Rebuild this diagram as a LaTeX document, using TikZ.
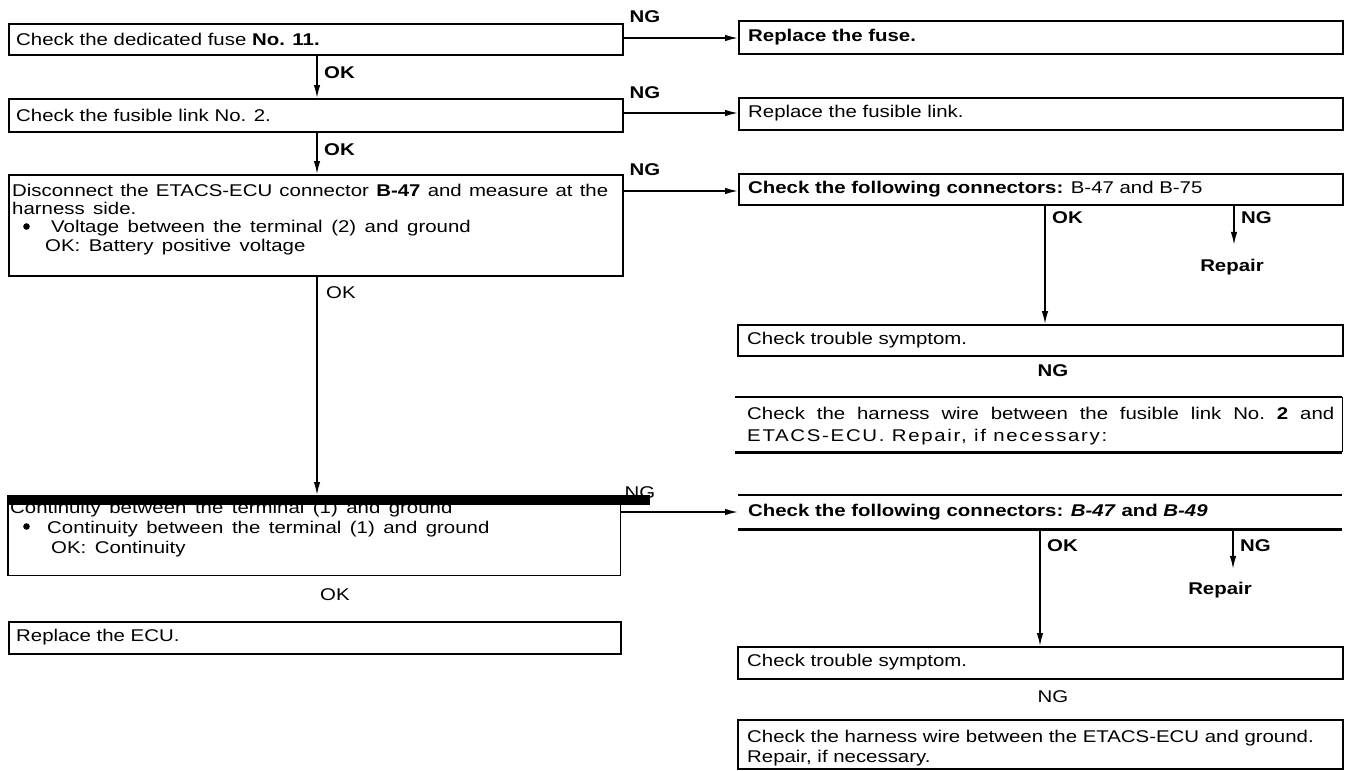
\documentclass[tikz,border=0pt]{standalone}
\usepackage{fontspec}
\setmainfont{Liberation Sans}[FakeStretch=1.2]
\newfontfamily\wide{Liberation Sans}[FakeStretch=1.2, WordSpace=1.5]
\usetikzlibrary{arrows.meta}
\newcommand\myfs{\fontsize{17pt}{18.3pt}\selectfont}
\begin{document}
\begin{tikzpicture}[x=1pt,y=-1pt,
  font=\myfs,
  box/.style={draw, line width=1.8pt, inner sep=0pt, anchor=north west},
  frame/.style={inner sep=0pt, anchor=north west},
  txt/.style={inner sep=0pt, anchor=west},
  mtxt/.style={inner sep=0pt, anchor=north west, align=left},
  lb/.style={inner sep=0pt, font=\myfs\bfseries},
  lr/.style={inner sep=0pt},
  arr/.style={line width=1.5pt, -{Latex[length=13pt,width=6.5pt]}},
  ln/.style={line width=1.8pt},
  thk/.style={line width=2.8pt},
  dot/.style={radius=3.3pt}]
\fill[white] (0,0) rectangle (1350,771);
\useasboundingbox (0,0) rectangle (1350,771);

% helper coordinates
\coordinate (xl) at (317,0);
\coordinate (y1) at (0,38);
\coordinate (y2) at (0,113);
\coordinate (y3) at (0,191);
\coordinate (y4) at (0,512);
\coordinate (xa) at (1045,0);
\coordinate (xb) at (1234,0);
\coordinate (xc) at (1040,0);
\coordinate (xd) at (1233,0);

% ---------------- left column ----------------
\node[box, minimum width=614pt, minimum height=31pt] (b1) at (8,23) {};
\node[txt] (t1) at (16,39) {Check the dedicated fuse \textbf{No. 11.}};

\node[box, minimum width=614pt, minimum height=33pt] (b2) at (8,98) {};
\node[txt] (t2) at (16,115) {Check the fusible link No. 2.};

\node[box, minimum width=614pt, minimum height=101pt] (b3) at (8,174) {};
\node[mtxt] (t3) at (12,183.6) {\makebox[596pt][s]{Disconnect the ETACS-ECU connector \textbf{B-47} and measure at the}\\
{\wide harness side.}\\
\hspace*{39pt}{\wide Voltage between the terminal (2) and ground}\\
\hspace*{33pt}{\wide OK: Battery positive voltage}};
\fill[dot] (26.5,226.5) circle;

\node[frame, minimum width=612pt, minimum height=80pt] (b4) at (8,495) {};
\draw[ln] (b4.north west) -- (b4.south west) -- (b4.south east) -- (b4.north east);
\node[lr] (ng4) at (640,493) {NG};
\node[mtxt, font=\fontsize{17pt}{19.8pt}\selectfont\wide] (t4) at (10,501) {Continuity between the terminal (1) and ground\\
\hspace*{37pt}Continuity between the terminal (1) and ground\\
\hspace*{41pt}OK: Continuity};
\fill[dot] (26.5,526.5) circle;
\fill (8,495) rectangle (650,505);

\node[box, minimum width=612pt, minimum height=32pt] (b5) at (8,621) {};
\node[txt] (t5) at (16,637) {Replace the ECU.};

\draw[arr] (b1.south -| xl) -- (b2.north -| xl);
\node[lb, anchor=west] (ok1) at (324,73) {OK};
\draw[arr] (b2.south -| xl) -- (b3.north -| xl);
\node[lb, anchor=west] (ok2) at (324,150) {OK};
\draw[arr] (b3.south -| xl) -- (b4.north -| xl);
\node[lr, anchor=west] (ok3) at (326,293) {OK};
\node[lr, anchor=west] (ok4) at (320,595) {OK};

% ---------------- right column ----------------
\node[box, minimum width=604pt, minimum height=33pt] (r1) at (738,20) {};
\node[txt] (s1) at (748,37) {\textbf{Replace the fuse.}};
\node[box, minimum width=604pt, minimum height=32pt] (r2) at (738,97) {};
\node[txt] (s2) at (748,113) {Replace the fusible link.};
\node[box, minimum width=604pt, minimum height=31pt] (r3) at (738,173) {};
\node[txt] (s3) at (748,189) {\textbf{Check the following connectors:} B-47 and B-75};

\draw[arr] (b1.east |- y1) -- (r1.west |- y1);
\node[lb] (ng1) at (645,17) {NG};
\draw[arr] (b2.east |- y2) -- (r2.west |- y2);
\node[lb] (ng2) at (645,93) {NG};
\draw[arr] (b3.east |- y3) -- (r3.west |- y3);
\node[lb] (ng3) at (645,170) {NG};

% R3 branches
\node[box, minimum width=605pt, minimum height=31pt] (tr1) at (737,324) {};
\node[txt] (s4) at (747,340) {Check trouble symptom.};
\draw[arr] (r3.south -| xa) -- (tr1.north -| xa);
\node[lb, anchor=west] (ok5) at (1052,218) {OK};
\node[lb] (rep1) at (1232,267) {Repair};
\coordinate (e1) at ([yshift=14pt]rep1.north);
\draw[arr] (r3.south -| xb) -- (e1 -| xb);
\node[lb, anchor=west] (ng5) at (1241,218) {NG};
\node[lb] (ng6) at (1053,371) {NG};

\node[frame, minimum width=607pt, minimum height=55pt] (h1) at (735,397) {};
\draw[thk] (h1.north west) -- (h1.north east);
\draw[thk] (h1.south west) -- (h1.south east);
\draw[ln] (h1.north east) -- (h1.south east);
\node[mtxt, font=\fontsize{17pt}{22pt}\selectfont] (s5) at (747,406.6) {\makebox[587pt][s]{Check the harness wire between the fusible link No.\ \textbf{2} and}\\
{\addfontfeature{LetterSpace=10}ETACS-ECU. Repair, if necessary:}};

% row 4
\node[frame, minimum width=604pt, minimum height=34pt] (r4) at (738,495) {};
\draw[thk] (r4.north west) -- (r4.north east);
\draw[thk] (r4.south west) -- (r4.south east);
\node[txt] (s6) at (748,512) {\textbf{Check the following connectors: \textit{B-47} and \textit{B-49}}};
\draw[arr] (b4.east |- y4) -- (r4.west |- y4);

\node[box, minimum width=605pt, minimum height=32pt] (tr2) at (737,646) {};
\node[txt] (s7) at (747,662) {Check trouble symptom.};
\draw[arr] (r4.south -| xc) -- (tr2.north -| xc);
\node[lb, anchor=west] (ok6) at (1047,546) {OK};
\node[lb, anchor=west] (ng7) at (1240,546) {NG};
\node[lb] (rep2) at (1220,590) {Repair};
\coordinate (e2) at ([yshift=13pt]rep2.north);
\draw[arr] (r4.south -| xd) -- (e2 -| xd);
\node[lr] (ng8) at (1053,697) {NG};

\node[box, minimum width=605pt, minimum height=49pt] (h2) at (737,719) {};
\node[mtxt, font=\fontsize{17pt}{20pt}\selectfont] (s8) at (747,729.6) {Check the harness wire between the ETACS-ECU and ground.\\
Repair, if necessary.};
\end{tikzpicture}
\end{document}
